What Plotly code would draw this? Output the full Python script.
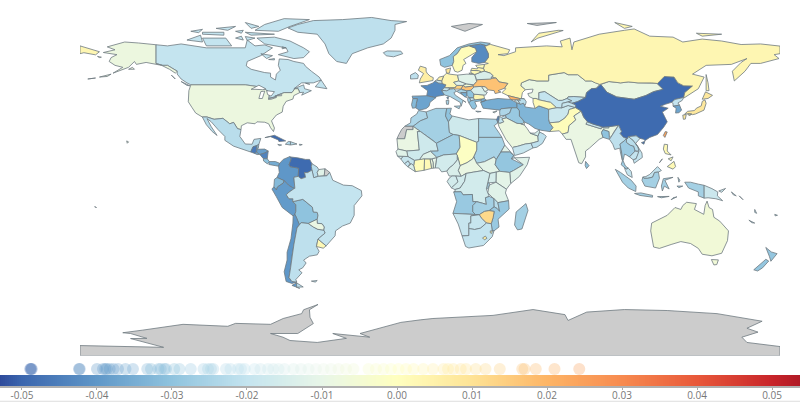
import numpy as np
import plotly.graph_objects as go

# ---------- data ----------
values_americas = {"Canada":-0.02,"USA":-0.008,"Alaska":-0.008,"Greenland":-0.021,"Mexico":-0.022,"Guatemala":-0.046,"Belize":-0.03,
 "Honduras":-0.038,"ElSalvador":-0.036,"Nicaragua":-0.044,"CostaRica":-0.03,"Panama":-0.035,"Cuba":-0.049,"Haiti":-0.024,"DomRep":-0.022,
 "Jamaica":-0.024,"PuertoRico":-0.02,"Colombia":-0.04,"Venezuela":-0.0489,"Guyana":-0.022,"Suriname":-0.012,"FrGuiana":None,"Ecuador":-0.032,
 "Peru":-0.039,"Bolivia":-0.03,"Chile":-0.04,"Argentina":-0.021,"Paraguay":-0.009,"Uruguay":0.002,"Brazil":-0.02,"Falklands":-0.022,"Hawaii":-0.008}
values_europe = {"Iceland":-0.021,"Norway":-0.03,"Sweden":0.001,"Finland":-0.0424,"Denmark":0.009,"UK":0.006,"Ireland":-0.021,"France":-0.0424,
 "Spain":-0.037,"Portugal":-0.032,"Germany":0.003,"Netherlands":0.005,"Belgium":-0.018,"Switzerland":-0.02,"Austria":0.014,"Italy":-0.025,
 "Czechia":-0.012,"Slovakia":-0.005,"Poland":-0.012,"Hungary":0.017,"Croatia":-0.025,"Bosnia":-0.035,"Serbia":-0.03,"Albania":-0.028,
 "Macedonia":-0.02,"Greece":-0.03,"Cyprus":-0.01,"Bulgaria":0.003,"Romania":-0.014,"Moldova":-0.01,"Ukraine":0.017,"Belarus":-0.014,
 "Lithuania":0.002,"Latvia":0.003,"Estonia":0.001,"Russia":0.003,"Georgia":0.021,"Armenia":-0.018,"Azerbaijan":-0.022,"Turkey":-0.035}
values_africa = {"Morocco":-0.024,"WSahara":None,"Algeria":-0.026,"Tunisia":-0.03,"Libya":-0.017,"Egypt":-0.025,"Sudan":-0.025,"SSudan":-0.011,
 "Eritrea":-0.012,"Djibouti":-0.02,"Ethiopia":-0.029,"Somalia":-0.012,"Kenya":-0.011,"Uganda":-0.015,"Tanzania":-0.012,"Rwanda":-0.025,
 "Mauritania":-0.009,"Mali":-0.017,"Niger":-0.026,"Chad":-0.001,"CAR":-0.009,"Cameroon":-0.014,"Nigeria":-0.016,"Benin":-0.01,"Togo":-0.008,
 "Ghana":0.002,"Burkina":-0.012,"CotedIvoire":0.001,"Liberia":-0.014,"SierraLeone":-0.02,"Guinea":-0.019,"GuineaBissau":-0.016,"Senegal":-0.012,
 "Gabon":-0.016,"Congo":-0.016,"DRC":-0.016,"Angola":-0.028,"Zambia":-0.026,"Malawi":-0.022,"Mozambique":-0.028,"Zimbabwe":0.012,"Namibia":-0.019,
 "Botswana":-0.019,"SouthAfrica":-0.02,"Lesotho":0.006,"Swaziland":0.004,"Madagascar":-0.026}
values_asia = {"Syria":-0.024,"Israel":-0.045,"Jordan":-0.02,"Iraq":-0.028,"Iran":-0.033,"Saudi":-0.008,"Yemen":-0.019,"Oman":-0.021,"UAE":-0.015,
 "Kuwait":-0.01,"Afghanistan":-0.018,"Pakistan":0.001,"India":-0.009,"Nepal":-0.018,"Bangladesh":-0.03,"Bhutan":-0.02,"SriLanka":-0.03,
 "Kazakhstan":-0.009,"Uzbekistan":-0.02,"Turkmenistan":0.002,"Kyrgyzstan":-0.022,"Tajikistan":-0.019,"Mongolia":-0.009,"China":-0.0489,
 "Taiwan":0.024,"NKorea":-0.02,"SKorea":-0.037,"Japan":0.008,"Myanmar":-0.021,"Thailand":-0.027,"Laos":-0.022,"Cambodia":-0.02,"Vietnam":-0.02,
 "Malaysia":-0.02,"Indonesia":-0.026,"PNG":-0.018,"Philippines":0.002,"Australia":-0.006,"NewZealand":-0.029,"Pacific":-0.02,"Svalbard":None,"Antarctica":None}

strip_values = [-0.0489,-0.0488,-0.0487,-0.0424,-0.0423,-0.0400,-0.0392,-0.0389,-0.0387,-0.0383,-0.0378,-0.0372,-0.0362,-0.0352,
 -0.0333,-0.0328,-0.0318,-0.0315,-0.0310,-0.0308,-0.0297,-0.0290,-0.0275,-0.0258,-0.0252,-0.0248,-0.0245,-0.0228,-0.0222,-0.0212,-0.0208,
 -0.0203,-0.0190,-0.0182,-0.0172,-0.0165,-0.0158,-0.0150,-0.0138,-0.0128,-0.0118,-0.0108,-0.0098,-0.0088,-0.0078,-0.0068,-0.0058,
 -0.0038,-0.0028,-0.0018,-0.0008,0.0002,0.0012,0.0022,0.0035,0.0048,0.0062,0.0068,0.0075,0.0085,0.0092,0.0105,0.0118,0.0137,0.0167,0.0170,0.0185,0.0210,0.0243]

tick_values = [-0.05,-0.04,-0.03,-0.02,-0.01,0,0.01,0.02,0.03,0.04,0.05]
tick_labels = ["-0.05","-0.04","-0.03","-0.02","-0.01","0.00","0.01","0.02","0.03","0.04","0.05"]
scale_stops = [-0.05293,-0.05,-0.04,-0.03,-0.02,-0.01,0,0.01,0.02,0.03,0.04,0.05,0.05373]
scale_colors = ["#2e4a9b","#3b66ae","#5f97c8","#8fc3de","#c4e4ef","#e8f6e8","#ffffbf","#fee395","#fdb566","#f78a4f","#e8583a","#c8252a","#b01a26"]

# ---------- outlines, "lon,lat lon,lat ..." ----------
outlines = {
"Canada":["-141,69.6 -135,69 -128,70 -125,69.5 -115,68 -108,68 -102,68 -95,68 -94,72 -90,69 -85,69.5 -81,68 -87,64 -94,61 -94.5,58.7 -92,57 -85,55.3 -82,55 -82,53 -79.5,51.5 -79,54.5 -77,56.5 -78,59 -77.5,62.3 -73,62 -70,61 -65,60 -64,58.5 -61,56 -57,53 -56,51.5 -60,50 -66,50 -70,47 -65,49 -64.5,47 -61,46 -64,44.5 -66,43.7 -65,45.2 -67,45 -67.8,47 -69.5,47 -71,45 -75,45 -79,43.5 -79,43 -83,42 -82.5,45 -84.5,46.5 -88,48 -95,49 -123,49 -125,50 -128,52 -130,54.5 -130,56 -135,59 -137.5,59 -141,60",
 "-80,73.5 -72,71.5 -65,68 -62,66 -65,63 -70,62.5 -78,64.5 -73,66 -74,68 -85,70 -89,73","-117,73 -105,73 -102,69 -115,69","-90,77 -85,80 -75,83 -62,82.5 -72,79 -78,76.5","-125,72 -118,74.5 -117,71","-95,76 -80,75 -92,74.5","-117,76 -106,76 -106,74.5 -117,75","-95,81 -88,79 -92,78","-87,65 -81,64 -84,62.5","-59,48 -56,51.5 -53,47","-128,50.7 -123.5,48.5 -125,48.7","-110,78 -100,79 -104,77","-100,73 -96,72 -97,74","-95,73.8 -90,73 -94,71.8","-133,54 -131,52 -132,53.5","-123,76.5 -117,77.5 -119,75.8","-100,76.5 -96,77 -97,75.5","-80,62.5 -80,61.8 -83,62","-64,49.8 -61.8,49.3 -63,49.2","-76,68.5 -74,68 -76,67.5"],
"USA":["-123,49 -95,49 -88,48 -84.5,46.5 -82.5,45 -83,42 -79,43 -79,43.5 -75,45 -71,45 -69.5,47 -67.8,47 -67,45 -70,43.5 -70.5,41.7 -74,40.5 -75.5,38 -76,35 -79,33.5 -81.5,30.5 -80,26.8 -80.5,25 -82,27 -83,29 -85,29.8 -89,30 -90,29 -94,29.5 -97,28 -97.2,26 -99,26.5 -101,29.7 -103,29 -106.5,31.8 -111,31.3 -114.7,32.5 -117.1,32.5 -120.5,34.5 -122.5,37.5 -124.3,40.3 -124,46"],
"Alaska":["-141,69.6 -141,60 -137.5,59 -135,59 -130,56 -131,55 -134,57 -138,59 -146,60.5 -151,59.5 -152,61 -155,58 -163,55 -158,58 -162,59 -165,61 -164,63 -161,64.5 -168,65.6 -162,67 -166,68.5 -157,71 -150,70.5","-164,54.5 -170,53 -166,53.3","-172,52.5 -176,52 -174,51.9","-153,58 -155,57 -152,57","-171,63.6 -169,63.2 -170,63"],
"Hawaii":["-156,20.2 -155,19.7 -155.7,19"],
"Greenland":["-73,78.2 -68,80 -60,82 -45,82.5 -30,83.6 -20,82 -12,81.5 -18,80 -18,77 -20,73 -24,70 -32,68 -40,65 -43,60 -48,61 -52,65 -54,70 -58,75 -68,76"],
"Iceland":["-24,65.5 -22,66.4 -15,66.3 -14,65 -18.7,63.4 -22.5,63.9"],
"Mexico":["-117.1,32.5 -114.7,32.5 -111,31.3 -106.5,31.8 -103,29 -101,29.7 -99,26.5 -97.2,26 -97.8,22.5 -95,18.6 -91.5,18.5 -90.5,21 -87,21.5 -88,18.5 -89,17.8 -91,17.2 -92.2,14.5 -96,15.7 -101,17.5 -105.5,20.5 -105.5,22.5 -109,26 -112.5,30 -114.7,31.7 -112.5,27.5 -109.5,23 -112,25 -115,28.5"],
"Guatemala":["-92.2,14.5 -91,17.2 -89,17.8 -88.9,15.9 -89.2,14.4 -90.2,13.8"],
"Belize":["-89,17.8 -88,18.5 -88.3,16.5 -88.9,15.9"],
"Honduras":["-88.9,15.9 -85,16 -83.2,15 -85,14 -87.5,13.2 -89.2,14.4"],
"ElSalvador":["-90.2,13.8 -89.2,14.4 -87.8,13.3 -88.9,13.2"],
"Nicaragua":["-87.5,13.2 -85,14 -83.2,15 -83.7,11 -85.7,11.1"],
"CostaRica":["-85.7,11.1 -83.7,11 -82.6,9.6 -83.6,8.4 -85.6,9.9"],
"Panama":["-82.9,8.1 -82.6,9.6 -79.5,9.6 -77.3,8.7 -77.9,7.2 -80.5,7.5"],
"Cuba":["-84.9,21.9 -80,23.1 -74.2,20.2 -77.7,19.9 -78,20.7 -82,22.4"],
"Haiti":["-74.4,18.5 -72.9,19.9 -71.7,19.8 -71.8,18.1"],
"DomRep":["-71.7,19.8 -68.4,18.6 -71.8,18.1"],
"Jamaica":["-78.3,18.4 -76.3,18.1 -77.5,17.8"],
"PuertoRico":["-67.2,18.5 -65.7,18.3 -67,17.9"],
"Colombia":["-77.3,8.7 -75.5,10.7 -72,12.2 -71.3,11 -72.5,8 -72,7 -67.5,6.2 -67.8,2 -70,1.5 -69.5,-4.2 -70.7,-3.8 -72.8,-2.5 -75,-0.2 -78.7,1.4 -77.5,4 -77.9,7.2"],
"Venezuela":["-71.3,11 -72,12 -68,11.5 -64,10.7 -61.9,10.7 -60.7,8.5 -61,7 -60.7,5.2 -63,3.9 -64.5,4 -64,1.5 -66.3,0.8 -67.8,2 -67.5,6.2 -72,7 -72.5,8"],
"Guyana":["-60.7,8.5 -58,6.8 -57.2,5.5 -58,4 -57.5,2 -59.8,1.3 -60.7,5.2 -61,7"],
"Suriname":["-57.2,5.5 -54,5.9 -54.4,2.3 -57.5,2 -58,4"],
"FrGuiana":["-54,5.9 -51.6,4.1 -53,2.3 -54.4,2.3"],
"Ecuador":["-80.3,-3.4 -80,0.5 -78.7,1.4 -75,-0.2 -75.5,-1.5 -78.4,-3.4 -79,-5"],
"Peru":["-81.3,-4.5 -80.3,-3.4 -79,-5 -78.4,-3.4 -75.5,-1.5 -75,-0.2 -72.8,-2.5 -70.7,-3.8 -69.9,-4.3 -73,-6.5 -73.9,-7.5 -72.5,-9.5 -70.5,-9.5 -70.6,-11 -69,-12.5 -69,-16 -69.5,-17.5 -70.4,-18.3 -76,-14 -79,-8.5"],
"Bolivia":["-69,-12.5 -70.6,-11 -65.4,-9.8 -60.5,-13.8 -60,-16.3 -58,-16.5 -57.6,-18 -58,-20 -62.6,-22.2 -66.3,-21.8 -67.2,-22.8 -68.5,-19.5 -69.5,-17.5 -69,-16"],
"Chile":["-70.4,-18.3 -69.5,-17.5 -68.5,-19.5 -67.2,-22.8 -68.4,-24.5 -70,-33 -71,-39 -71.7,-45 -72.5,-50 -71,-52 -68.5,-52.3 -71,-53 -74,-52 -75,-47 -73.5,-41 -73.5,-37 -71.5,-30 -70.5,-22","-68.6,-52.7 -68.6,-55 -67,-55.5 -71,-54"],
"Argentina":["-66.3,-21.8 -62.6,-22.2 -60,-24 -57.7,-25.2 -54.6,-25.6 -53.9,-27.1 -57.6,-30.2 -58.4,-34 -57,-36.5 -58,-38.3 -62,-39 -65,-41 -63.7,-42.5 -65.5,-45 -67.5,-46 -65.8,-47.5 -69,-51 -68.5,-52.3 -71,-52 -72.5,-50 -71.7,-45 -71,-39 -70,-33 -68.4,-24.5 -67.2,-22.8","-68.6,-52.7 -65.2,-54.8 -68.6,-54.9"],
"Paraguay":["-58,-20 -62.6,-22.2 -60,-24 -57.7,-25.2 -54.6,-25.6 -54.3,-24 -55.5,-22.3 -57.9,-22.1"],
"Uruguay":["-57.6,-30.2 -53.4,-33.7 -54.9,-34.9 -58.4,-34"],
"Brazil":["-60.7,5.2 -59.8,1.3 -57.5,2 -54.4,2.3 -53,2.3 -51.6,4.1 -50,0 -44.5,-2.5 -40,-2.8 -35.3,-5.3 -35,-8 -39,-13 -39,-18 -41,-22 -45,-23.5 -48.6,-26 -48.8,-28.5 -53.4,-33.7 -57.6,-30.2 -53.9,-27.1 -54.6,-25.6 -54.3,-24 -55.5,-22.3 -57.9,-22.1 -58,-20 -57.6,-18 -58,-16.5 -60,-16.3 -60.5,-13.8 -65.4,-9.8 -70.6,-11 -70.5,-9.5 -72.5,-9.5 -73.9,-7.5 -73,-6.5 -69.9,-4.3 -69.5,-4.2 -70,1.5 -67.8,2 -66.3,0.8 -64,1.5 -64.5,4 -63,3.9"],
"Falklands":["-61,-51.8 -58,-51.5 -59,-52.3"],
"Morocco":["-5.9,35.8 -2,35.1 -1.2,32 -5,30.5 -8.7,27.7 -13,27.7 -10,29.5 -9.8,32 -6.8,34"],
"WSahara":["-13,27.7 -8.7,27.7 -8.7,26 -12,26 -13,21.3 -17,21.3 -16,23.5 -14.5,26.2"],
"Algeria":["-2,35.1 3,36.9 8.6,36.9 8,33 9.5,30 10,24.5 12,23.5 3.3,19 1.2,20.7 -4.9,25 -8.7,27.7 -5,30.5 -1.2,32"],
"Tunisia":["8.6,36.9 11,37 10.2,34 11.5,33 9.5,30 8,33"],
"Libya":["11.5,33 15,32.3 20,31 25,31.7 25,20 24,19.5 15,23 12,23.5 10,24.5 9.5,30"],
"Egypt":["25,31.7 32,31.2 34.2,31.3 34.9,29.5 33,28 35.8,23.9 37,22 25,22"],
"Sudan":["25,22 37,22 38.5,18 36.5,14.5 34,10.5 33,12 28,9.5 24,8.7 22.5,12 24,15.5 24,19.5 25,20"],
"SSudan":["24,8.7 28,9.5 33,12 34,10.5 33.5,8 35.9,4.6 34,4.2 30.8,3.5 27.5,5"],
"Eritrea":["36.5,14.5 38.5,18 43,12.8 41,14.5"],
"Djibouti":["41.8,11 43,12.8 43.4,11.5"],
"Ethiopia":["34,10.5 36.5,14.5 41,14.5 43,12.8 41.8,11 48,8 43,5 41,4 36,4.5 33.5,8"],
"Somalia":["43.4,11.5 51.2,11.8 50,8 46,2 41.5,-1.7 41,4 43,5 48,8"],
"Kenya":["35.9,4.6 41,4 41.5,-1.7 39.3,-4.6 33.9,-1 34,4.2"],
"Uganda":["30.8,3.5 34,4.2 33.9,-1 29.6,-1.4"],
"Tanzania":["33.9,-1 39.3,-4.6 38.8,-6.5 40.4,-10.5 34.9,-11.5 32.9,-9.4 29.7,-6.5 30.5,-2.5"],
"Rwanda":["29.6,-1.4 30.5,-1.4 30.5,-2.5 29.7,-4.4 29,-4.4"],
"Mauritania":["-17,21.3 -13,21.3 -12,26 -8.7,26 -8.7,27.7 -4.9,25 -6.5,25 -5.5,15.5 -12,15 -16.5,16"],
"Mali":["-4.9,25 1.2,20.7 3.3,19 4.2,15 0.2,14.9 -3.5,13.3 -5.5,10.4 -8,10.2 -11.4,12.2 -12,15 -5.5,15.5 -6.5,25"],
"Niger":["3.3,19 12,23.5 15,23 15.5,17 13.5,13.5 7,13 3.5,11.7 0.2,14.9 4.2,15"],
"Chad":["15,23 24,19.5 24,15.5 22.5,12 22,11 19,9 15.5,7.5 14,12.8 13.5,13.5 15.5,17"],
"CAR":["15.5,7.5 19,9 22,11 22.5,12 24,8.7 27.5,5 22.5,4.2 18.6,3.5 16,2 14.5,5"],
"Cameroon":["8.6,4.7 9.8,2.2 16,2 14.5,5 15.5,7.5 14,12.8 14,10.5 12,8 10,6.5"],
"Nigeria":["2.7,6.3 4.5,6.3 6,4.3 8.6,4.7 10,6.5 12,8 14,10.5 14,12.8 13.5,13.5 7,13 3.5,11.7 3,9"],
"Benin":["1.7,6.2 2.7,6.3 3,9 3.5,11.7 1,11 1.6,9"],
"Togo":["0.8,6.1 1.7,6.2 1.6,9 1,11 0,11"],
"Ghana":["-3.1,5.1 0.8,6.1 0,11 -2.8,11"],
"Burkina":["-5.5,10.4 -3.5,13.3 0.2,14.9 3.5,11.7 1,11 0,11 -2.8,11"],
"CotedIvoire":["-7.6,4.4 -3.1,5.1 -2.8,11 -5.5,10.4 -8,10.2 -8.4,7.5"],
"Liberia":["-11.4,6.9 -7.6,4.4 -8.4,7.5 -9.5,8.5"],
"SierraLeone":["-13.2,8.5 -11.4,6.9 -10.3,8.5 -11.2,10"],
"Guinea":["-15,10.9 -13.2,8.5 -11.2,10 -10.3,8.5 -9.5,8.5 -8.4,7.5 -8,10.2 -11.4,12.2 -13.7,12.5"],
"GuineaBissau":["-16.7,12.4 -15,10.9 -13.7,12.5"],
"Senegal":["-17.5,14.7 -16.5,16 -12,15 -11.4,12.2 -16.7,12.4"],
"Gabon":["9.8,1 11.3,2.2 13.3,2.2 14.4,-0.8 12.8,-2.5 11,-3.9 8.8,-0.7"],
"Congo":["11,-3.9 12.8,-2.5 14.4,-0.8 13.3,2.2 16,2 18.6,3.5 17.8,-0.5 15.5,-4 12.8,-4.8"],
"DRC":["12.2,-6 13,-5.8 12.8,-4.8 15.5,-4 17.8,-0.5 18.6,3.5 22.5,4.2 27.5,5 30.8,3.5 29.6,-1.4 29,-4.4 29.7,-6.5 30.5,-8.3 28.5,-9 29,-12.4 27,-11.8 24,-11 22,-11 21.8,-7.3 17,-7.5 16,-5.9"],
"Angola":["11.8,-17 13.7,-11 12.2,-6 16,-5.9 17,-7.5 21.8,-7.3 22,-11 24,-11 22,-13 22,-16.2 23.4,-17.6 18.5,-17.4"],
"Zambia":["22,-13 24,-11 27,-11.8 29,-12.4 28.5,-9 30.5,-8.3 32.9,-9.4 33,-13.7 30.4,-15.6 28,-16 25.3,-17.7 23.4,-17.6 22,-16.2"],
"Malawi":["32.9,-9.4 34.9,-11.5 35.8,-16 34.5,-14.5 33,-13.7"],
"Mozambique":["34.9,-11.5 40.4,-10.5 40.7,-14.8 35,-20 35.5,-24 32.9,-26 32,-26 31.5,-22.3 32.5,-19 33,-16 30.4,-15.6 33,-13.7 34.5,-14.5 35.8,-16"],
"Zimbabwe":["25.3,-17.7 28,-16 30.4,-15.6 33,-16 32.5,-19 31.5,-22.3 29,-22 26.5,-19.5"],
"Namibia":["11.8,-17 18.5,-17.4 23.4,-17.6 25.3,-17.7 21,-18.3 21,-22 20,-22 20,-28.4 16.5,-28.6 14.5,-22.5"],
"Botswana":["20,-22 21,-22 21,-18.3 25.3,-17.7 26.5,-19.5 29,-22 26,-24.6 23,-25.3 20,-24.8"],
"SouthAfrica":["16.5,-28.6 20,-28.4 20,-24.8 23,-25.3 26,-24.6 29,-22 31.5,-22.3 32,-26 32.9,-26 32,-29 27.5,-33.5 20,-34.8 18.3,-34"],
"Lesotho":["27,-29.6 28.5,-28.7 29.3,-29.8 28,-30.6"],
"Swaziland":["31,-26 32,-26 31.8,-27.3 31,-27"],
"Madagascar":["49.3,-12 50.4,-15.5 47.3,-25 45,-25.5 43.5,-23 44.3,-16.3"],
"Turkey":["26,40 29,41.1 35,42 41.5,41.5 44.7,39.7 44.8,37.2 42,37.2 36.5,36.7 36,36 30.5,36.5 27.3,37 26.3,39.4","26.3,41.7 28,42 29,41.1 26.2,40.1"],
"Syria":["36,36 36.5,36.7 42,37.2 41,34.5 38.8,33.4 36,33 35.8,35"],
"Israel":["34.3,31.3 35,33 35.6,32.7 35.5,31 35,29.5"],
"Jordan":["35.6,32.7 36.8,32.3 38.8,33.4 39.3,32 37,31.5 38,30 36,29.2 35,29.5 35.5,31"],
"Iraq":["38.8,33.4 41,34.5 42,37.2 44.8,37.2 46,35.7 46,33 47.8,31 48.5,29.9 47.5,29 46.5,29.1 44.7,29.2 39.3,32"],
"Iran":["44.7,39.7 48,39.6 49,37.6 54,36.9 56,38.2 61,36.5 61,31.5 61.5,29.5 63.3,27 61.5,25 57,25.7 54,26.6 50.8,28.9 48.5,29.9 47.8,31 46,33 46,35.7 44.8,37.2"],
"Saudi":["34.9,29.5 36,29.2 38,30 37,31.5 39.3,32 44.7,29.2 46.5,29.1 48.5,28.4 50,26.5 51.5,24.2 55.5,22.7 55.7,20 52,19 49,18.6 45,17.4 43,17 42.5,16.5 39,21 35.5,27.5"],
"Yemen":["42.5,16.5 43,17 45,17.4 49,18.6 52,19 53,16.6 48,14 43.5,12.7"],
"Oman":["52,19 55.7,20 55.5,22.7 56.3,24.8 58.7,23.6 59.8,22.5 57.8,18.9 55,17 53,16.6"],
"UAE":["51.5,24.2 54,24.2 56.3,26 56.3,24.8 55.5,22.7"],
"Kuwait":["46.5,29.1 47.5,29 48.5,29.9 48.5,28.4"],
"Afghanistan":["61,36.5 65,37.3 67.8,37.2 71,38.4 74.9,37.3 71.5,36.3 71,34 69.3,31.9 66.3,29.9 61.5,29.5 61,31.5"],
"Pakistan":["61.5,29.5 66.3,29.9 69.3,31.9 71,34 71.5,36.3 74.9,37.3 77.8,35.5 74,33 75,31 71.5,28 71,24.5 68,23.7 66.5,25.4 61.5,25 63.3,27"],
"India":["68,23.7 71,24.5 71.5,28 75,31 74,33 77.8,35.5 79,32.5 81,30 80.2,28.8 88,26.4 88.8,27.3 92,27.5 97,28.2 95,25.5 93,22 92,23 92,25 89,26 88.2,24.5 89,22 87,21 82,16.5 80,15 80,12 78,8.5 76.5,9 73,19 72.5,21 70,21"],
"Nepal":["80.2,28.8 81,30 84,28.8 88.2,27.8 88,26.4"],
"Bangladesh":["88.2,24.5 89,26 92,25 92,23 92.3,21 89,22"],
"Bhutan":["88.8,27.3 92,27.5 92,26.8 89,26.8"],
"SriLanka":["80,9.7 81.8,7.5 80.5,6 79.8,7.5"],
"Kazakhstan":["47,50 46.7,48.5 49,46.5 53,46.8 52.5,45 50.3,44.5 51,43 53,42 54.5,42 56,41.3 56,45 59,45.5 61,44.2 66,41 68,41 70.5,42 71,42.8 74,43 80,42.5 80.5,45 83,47 85.5,47.2 87.3,49.2 85,50 83,51 80,51 77,53.5 76,54.2 71,54.2 69,55.3 61,54 61,51 55,51 51,51.7"],
"Uzbekistan":["56,45 59,45.5 61,44.2 66,41 68,41 70.5,42 73,40.8 71,40.2 68,39.5 67.8,37.2 65,37.3 62,40 56,41.3"],
"Turkmenistan":["53,42 54.5,42 56,41.3 62,40 65,37.3 61,36.5 56,38.2 54,36.9 53,40"],
"Kyrgyzstan":["70.5,42 71,42.8 74,43 80,42.5 76,40.4 73,39.5 71,40.2 73,40.8"],
"Tajikistan":["68,39.5 71,40.2 73,39.5 75,38.5 74.9,37.3 71,38.4 67.8,37.2"],
"Mongolia":["87.8,49.2 92,50.7 98,50 102,50.5 107,50 114,50 116.7,49.8 119.9,46.7 115,45.5 111,43.5 105,41.6 96,42.8 91,45.2"],
"China":["73.7,39.5 75,38.5 74.9,37.3 77.8,35.5 79,32.5 81,30 84,28.8 88.2,27.8 88.8,27.3 92,27.5 97,28.2 98.5,25 97.7,24 99.5,22 101.5,21.2 102,22.4 106,22.8 108,21.5 110,21 110.5,20.3 113,22 117,23.5 120,27 122,30 121,32 119.5,35 122.5,37 118.5,38 121,39 124.2,40 126,41.5 130.5,42.5 131,45 135,48.4 130.5,48.5 127.5,50 125.5,53 120.5,53.3 117,49.7 116.7,49.8 119.9,46.7 115,45.5 111,43.5 105,41.6 96,42.8 91,45.2 87.8,49.2 85.5,47.2 83,47 80.5,45 80,42.5 76,40.4 73,39.5","108.7,19.3 110.5,20 110,18.5"],
"Taiwan":["121,25 122,24.8 120.8,22 120,23"],
"NKorea":["124.2,40 126,41.5 130.5,42.5 129.7,41 127.5,39.7 128.3,38.6 125,38 125,39.5"],
"SKorea":["125,38 128.3,38.6 129.4,36 128,34.7 126.3,34.5 126.6,37"],
"Japan":["130.9,33.9 132.5,35.4 136,35.8 137,37 139.5,38.2 140,40.5 141.4,41.3 142,39.5 140.9,36 139,35 136.5,34 135,33.7 132.5,34.2","140,41.6 141.7,45.4 145.3,43.6 143,42","130,33.5 131.8,33.7 131.3,31.4 130.3,31.3","132.5,34 134.5,34.2 133.5,33"],
"Myanmar":["92.3,21 93,22 95,25.5 97,28.2 98.5,25 97.7,24 99.5,22 101.1,21.6 100,20.3 97.7,18.5 98.6,14 99,10 98,14 97.6,16.5 95,15.8 94,18.5"],
"Thailand":["100,20.3 101.1,21.6 101,19.5 103,18 104.8,17.5 105.5,15 102.6,12 102,12.5 101,13 100,13.4 99.3,10 100.5,7.3 102,6.2 101,5.7 100,6.5 98.3,8 99,10 98.6,14 97.7,18.5"],
"Laos":["101.5,21.2 102,22.4 104.5,20.5 107,17 107.5,15 105.5,15 104.8,17.5 103,18 101,19.5 101.1,21.6"],
"Cambodia":["102.6,12 105.5,15 107.5,14.5 106,11 104.5,10.5"],
"Vietnam":["102,22.4 106,22.8 108,21.5 105.8,19 109,14 109.2,11.7 105,8.7 104.5,10.5 106,11 107.5,14.5 107.5,15 107,17 104.5,20.5"],
"Malaysia":["100,6.5 101,5.7 102,6.2 103.5,4.5 104,1.4 101.5,2.8 100.5,5","109.5,1.7 111,1.9 113,3 115,5 117,7 119,5 117.5,4.2 115.5,4 114.5,1.6 112,1 110,1"],
"Indonesia":["95.3,5.6 98,4 103.5,0 106,-3 105.8,-5.8 102,-4 99,-1","105.2,-6.8 108.5,-6.5 114.5,-7.8 114.4,-8.7 108,-7.8","109.5,1.7 110,1 112,1 114.5,1.6 115.5,4 117.5,4.2 118,1 116,-4 110.5,-3 109,0","119.5,-5.5 119,-3 120,0.8 125,1.5 120.8,0 123,-4.5 120.5,-3","131,-1 134,-1 138,-2 141,-2.6 141,-9.2 138,-8 138,-6 133,-4","117,-8.4 123,-8.3 119,-9","124,-10 127,-8.5 125,-9","127.5,1.5 128.5,0 128,-1","127,-3 130,-3 128,-3.8"],
"PNG":["141,-2.6 145,-4.3 148,-6 147.8,-8 150.5,-10.5 147,-9.5 143,-9 141,-9.2","148.5,-5.5 152,-4.2 150,-6.2"],
"Pacific":["155,-6 157.5,-8 156,-7.5","159,-8 161,-10 160,-9.5","167,-15 168,-17 167,-16.5","164,-20.5 167,-22 165.5,-21.8","177.3,-17.5 178.7,-18 177.5,-18.3","-172.5,-13.6 -171.5,-14 -172.3,-14"],
"Philippines":["120.5,18.5 122.2,18.3 122,15 124,13 121,13.7 120,16","122,7 125.5,9.7 126.3,7 125,5.7","122.5,11 125,12 124,10","118,9 119.5,11 119,10"],
"Australia":["114,-22 113.5,-26 115,-34.3 118,-35 124,-33 129,-31.5 134,-32.5 138,-35 140,-38 145,-38.8 150,-37.5 153,-31 153.5,-26 149,-21 146,-19 145.3,-15 143.5,-14 142.5,-10.7 141.5,-13 140.8,-17.5 136,-15 137,-12 132,-11.3 130,-13 129,-15 126,-14 122,-18 117,-20.5","144.7,-40.7 148.3,-40.9 147.5,-43.3 146,-43.5"],
"NewZealand":["172.7,-34.5 175.5,-36.8 178.5,-37.7 177,-39.5 175.3,-41.6 174.5,-39","172.7,-40.6 174.2,-41.5 171,-45 168.5,-46.6 166.5,-46 170,-43"],
"Russia":["28,69 28.9,69.1 31,69.8 41,67 40,65 35,64.5 38,64 44,66 44,68 54,68.5 60,69 68,68.5 67,71.5 72,73 73,67 74,71 80,73 87,75 100,77 105,77.7 113,74 125,73.5 130,71 140,72.5 150,71.5 160,69.7 170,70 178,69.2 180,68.9 180,65 177,64.5 179.5,62.5 170,60 165,60 162,56 156.5,51 155.5,56 160,60.5 163,62.5 155,59.5 142,59 135,54.5 141,53 138,47 132,43 130.7,42.3 130.5,42.5 131,45 135,48.4 130.5,48.5 127.5,50 125.5,53 120.5,53.3 117,49.7 114,50 107,50 102,50.5 98,50 92,50.7 87.8,49.2 87.3,49.2 85,50 83,51 80,51 77,53.5 76,54.2 71,54.2 69,55.3 61,54 61,51 55,51 51,51.7 47,50 46.7,48.5 49,46.5 47.5,45 47,42 48.5,41.8 46,42 40,43.5 37,45 39,47 38.2,47.2 40,49.7 35.5,50.5 34,52.5 31.5,53 32.5,53.6 31,55 28,56 27.5,57.5 28,59.5 30,60 28,60.5 30,63 30,65 29,67",
 "-180,69 -175,67.5 -170,66 -172,64.4 -178,65.5 -180,65","142,54.3 143,50 143.5,46 142,46 142,50","52,71 55.5,73 68.5,76.9 66,77 56,75.5","95,81 104,79 100,78","137,75.5 150,75 140,74","20,55 22,55 21,54.4"],
"Svalbard":["11,79 20,80.5 27,80 18,76.5","50,80.5 65,81 55,79.5"],
"Norway":["5,62 5.5,59 7.5,58 10.7,59 11.5,59 12.2,61 12,63.5 14,65 16,68 20,69 26,69.9 28.9,69.1 31,70.3 26,71 20,70 14,68 10,64"],
"Sweden":["11.5,59 12.7,56 14.3,55.5 16.5,56.5 17,59 18.5,60 17.3,62 21.5,64.5 24,66 23.5,67.8 20.5,69 20,69 16,68 14,65 12,63.5 12.2,61"],
"Finland":["23.5,67.8 24,66 21.5,63 21.5,60.8 25,60 28,60.5 30,63 30,65 29,67 28,69 28.9,69.1 26,69.9 20.5,69"],
"Denmark":["8.1,57 10.6,57.7 10,55 8.5,55"],
"UK":["-5.5,50 1.5,51.2 1.7,52.7 0,53.5 -1.5,55 -2,56 -2,57.7 -5,58.6 -6,56.5 -3.3,54.8 -5,52"],
"Ireland":["-10,52 -6.3,52.2 -6,54 -7.5,55.3 -10,54"],
"France":["-4.7,48.5 -1.5,48.7 1.5,50 2.6,51 4.2,50 6.2,49.7 8.2,49 7.5,47.5 6,46.2 6.7,45 7.5,43.8 3.1,43 3,42.4 -1.7,43.4 -1.2,46","8.6,42.5 9.5,43 9.3,41.5"],
"Spain":["-9.2,43.2 -1.7,43.4 3,42.4 0,40 -0.5,38 -2,36.8 -5.5,36 -7.4,37.2 -7,39.5 -6.5,41.9 -8.8,41.9"],
"Portugal":["-8.8,41.9 -6.5,41.9 -7,39.5 -7.4,37.2 -9,37 -9.5,38.8"],
"Germany":["6,51 7,53.5 8.5,55 10,54.5 14.2,54 14.8,51 12.2,50.3 13.7,48.7 13,47.5 9.6,47.4 7.5,47.5 8.2,49 6.2,49.7"],
"Netherlands":["3.4,51.4 4.7,53 7,53.5 6,51"],
"Belgium":["2.6,51 3.4,51.4 6,51 6.2,49.7 4.2,50"],
"Switzerland":["6,46.2 7.5,47.5 9.6,47.4 10.4,46.8 8.5,45.9"],
"Austria":["9.6,47.4 13,47.5 13.7,48.7 17,48.7 16,46.8 12.2,47 10.4,46.8"],
"Italy":["6.7,45 7.5,43.8 10.5,42.9 15.5,40 16,38 16.5,39.8 17,41 18.5,40 16,41.9 13,43.7 12.3,45 13.7,45.7 12.2,47 10.4,46.8 8.5,45.9 6,46.2","12.5,38 15.6,38.2 15,36.7","8.3,41 9.7,41 9.5,39 8.5,39"],
"Czechia":["12.2,50.3 14.8,51 18.8,49.5 17,48.7 13.7,48.7"],
"Slovakia":["17,48.7 18.8,49.5 22.5,49 22,48.4 18,47.8"],
"Poland":["14.2,54 19,54.5 23,54.3 24,51.6 24,50.7 22.5,49 18.8,49.5 14.8,51"],
"Hungary":["16,46.8 17,48.7 18,47.8 22,48.4 22.8,48 21,46.2 18.9,45.9 16.5,46.5"],
"Croatia":["13.7,45.7 16,46.8 16.5,46.5 18.9,45.9 19,45 15.8,45 19,42.5 14.8,45"],
"Bosnia":["15.8,45 19,45 19,43.5 18,42.6"],
"Serbia":["18.9,45.9 21,46.2 22.6,44.5 22.4,42.3 20.5,42.3 19,43.5 19,45"],
"Albania":["19.4,42.5 20.5,42.3 21,40.7 20,39.7 19.4,41"],
"Macedonia":["20.5,42.3 22.4,42.3 23,41.3 21,40.8"],
"Greece":["20,39.7 21,40.8 23,41.3 26.3,41.7 26,40.8 23,40.3 24,38 23,36.5 21.7,36.8 21,38.3","23.5,35.5 26.3,35.3 24.5,35"],
"Cyprus":["32.3,35 34.5,35.6 33,34.6"],
"Bulgaria":["22.4,42.3 22.6,44.2 27.7,43.8 28,42 26.3,41.7 23,41.3"],
"Romania":["21,46.2 22.8,48 26.5,48.2 28.2,45.5 29.5,45.2 28.5,43.7 27.7,43.8 22.6,44.2"],
"Moldova":["26.5,48.2 28.5,48 30,46.4 28.2,45.5"],
"Ukraine":["22.5,49 24,50.7 24,51.6 31.5,52 34,52.5 35.5,50.5 40,49.7 38.2,47.2 35,46 36.5,45.3 33.5,44.5 33,46 30,46.4 28.5,48 26.5,48.2 22.8,48 22,48.4"],
"Belarus":["24,51.6 23,54.3 26.5,55.7 28,56 31,55 32.5,53.6 31.5,53 31.5,52"],
"Lithuania":["21,55.3 21,56.4 25,56.3 26.5,55.7 23,54.3"],
"Latvia":["21,56.4 21.5,57.5 24.3,57.2 25,58 27.5,57.5 28,56 26.5,55.7 25,56.3"],
"Estonia":["23.5,59 28,59.5 27.5,57.5 25,58 24.3,57.9"],
"Georgia":["40,43.5 46,42 46.5,41 43.5,41.2 41.5,41.5"],
"Armenia":["43.5,41.2 45,41.3 46.5,39 44.8,39.7"],
"Azerbaijan":["45,41.3 46.5,41 46,42 48.5,41.8 49.5,40.3 49,38.5 48,39.6 46.5,39"],
"Antarctica":["-180,-84.9 -137,-85.8 -154,-81.3 -145.6,-81.2 -154,-78.7 -158,-78.3 -148,-77 -137,-75.5 -127,-74 -104,-75 -100,-73.5 -82,-74 -75.5,-71 -66,-68.5 -65,-66.5 -57.6,-63.8 -62,-66.5 -61.7,-70.4 -60,-73.6 -68,-78.7 -82,-78.7 -75.6,-80.6 -72,-82.3 -58,-83.3 -43,-81.2 -50,-78.7 -31,-80.6 -36,-78.7 -20.6,-74.6 -15,-73 -5,-71.7 1.5,-71 32.4,-69.4 53,-66.4 69.4,-69 71,-72 80.6,-67.7 100,-66.4 122,-66.9 147.6,-68.5 170.8,-72.4 163,-76 168.7,-78 160.4,-80.6 163,-83.3 180,-85.4 180,-90 -180,-90"],
}
lakes = ["-92,46.7 -88,48.8 -84.5,47 -86,46.5 -90,46.7","-88,42 -86.2,42 -85,45.8 -87,45.5","-84,46 -80,45.5 -81.7,43.2 -83.5,44","-83.3,41.7 -79,42.8 -79,42.5 -82,41.5","-79.8,43.3 -76.2,44 -76.3,43.4"]

line_color = "#6e7a80"

def value_color(v):
    if v is None:
        return "#cccccc"
    chans = [[int(c[i:i+2],16) for c in scale_colors] for i in (1,3,5)]
    return "rgb(%d,%d,%d)" % tuple(np.interp(v, scale_stops, ch) for ch in chans)

def polygon_xy(parts):
    xs, ys = [], []
    for part in parts:
        pts = [p.split(",") for p in part.split()]
        xs += [float(p[0]) for p in pts] + [float(pts[0][0]), None]
        ys += [float(p[1]) for p in pts] + [float(pts[0][1]), None]
    return xs, ys

all_values = {**values_americas, **values_europe, **values_africa, **values_asia}
fig = go.Figure()
for name, parts in outlines.items():
    xs, ys = polygon_xy(parts)
    fig.add_trace(go.Scatter(x=xs, y=ys, mode="lines", fill="toself", name=name,
        fillcolor=value_color(all_values[name]), line=dict(color=line_color, width=0.8),
        hoverinfo="name", showlegend=False, xaxis="x", yaxis="y"))
xs, ys = polygon_xy(lakes)
fig.add_trace(go.Scatter(x=xs, y=ys, mode="lines", fill="toself", fillcolor="white", name="lakes",
    line=dict(color=line_color, width=0.8), hoverinfo="skip", showlegend=False))

# colour bar + strip of dots
lo, hi = scale_stops[0], scale_stops[-1]
grad = np.linspace(lo, hi, 400)
fig.add_trace(go.Heatmap(x=grad, y=[0], z=[grad], zmin=lo, zmax=hi,
    colorscale=[[(s-lo)/(hi-lo), c] for s, c in zip(scale_stops, scale_colors)],
    showscale=False, hoverinfo="skip", xaxis="x2", yaxis="y2"))
fig.add_trace(go.Scatter(x=strip_values, y=[0]*len(strip_values), mode="markers",
    marker=dict(size=12, color=[value_color(v) for v in strip_values], opacity=0.32, line=dict(width=0)),
    hovertemplate="%{x:.4f}<extra></extra>", showlegend=False, xaxis="x2", yaxis="y3"))

H = 402.0
fig.update_layout(
    width=800, height=402, margin=dict(l=0, r=0, t=0, b=0, autoexpand=False),
    paper_bgcolor="white", plot_bgcolor="white", font=dict(family="Open Sans, Arial, sans-serif", size=10, color="#777777"),
    xaxis=dict(domain=[80/800, 780/800], range=[-180,180], visible=False, fixedrange=True, automargin=False),
    yaxis=dict(domain=[1-355.5/H, 1-5/H], range=[-90,90], visible=False, fixedrange=True, automargin=False),
    xaxis2=dict(domain=[0,1], range=[lo,hi], anchor="y2", tickmode="array", tickvals=tick_values, ticktext=tick_labels,
        showline=True, linecolor="#b0b0b0", linewidth=2, ticks="outside", ticklen=2, tickcolor="#aaaaaa", showgrid=False,
        zeroline=False, tickfont=dict(size=10, color="#777777"), ticklabelstandoff=-3, fixedrange=True, automargin=False),
    yaxis2=dict(domain=[1-386/H, 1-375/H], range=[-0.5,0.5], visible=False, fixedrange=True, automargin=False),
    yaxis3=dict(domain=[1-375/H, 1-363/H], range=[-1,1], visible=False, fixedrange=True, anchor="x2", automargin=False),
    shapes=[dict(type="line", xref="paper", yref="paper", x0=0, x1=1, y0=0.75/H, y1=0.75/H, line=dict(color="#dddddd", width=1))],
)
fig.write_html("out.html", config={"displayModeBar":False}, post_script="document.body.style.margin='0';document.body.style.overflow='hidden';")
